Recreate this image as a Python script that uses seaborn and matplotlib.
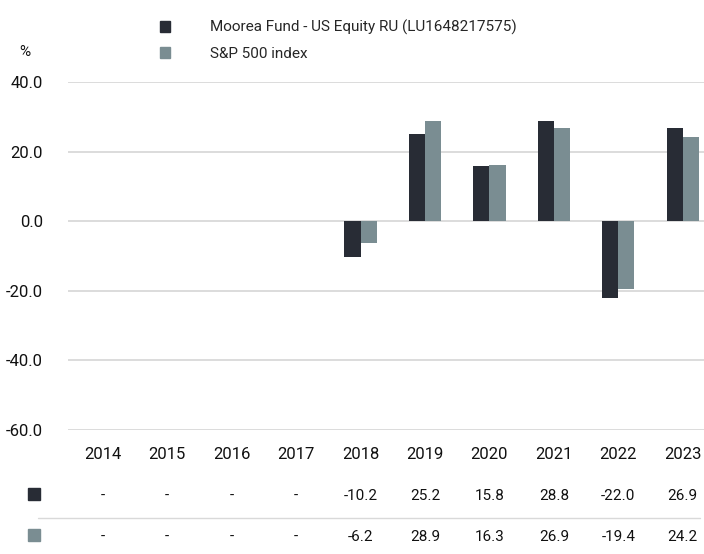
import matplotlib
matplotlib.use('Agg')
import matplotlib.pyplot as plt
import matplotlib.transforms as mtransforms
from matplotlib.patches import Patch
import seaborn as sns
import numpy as np
import pandas as pd

# Datos
years = ['2014', '2015', '2016', '2017', '2018', '2019', '2020', '2021', '2022', '2023']
fund_name = 'Moorea Fund - US Equity RU (LU1648217575)'
index_name = 'S&P 500 index'
fund = [np.nan, np.nan, np.nan, np.nan, -10.2, 25.2, 15.8, 28.8, -22.0, 26.9]
index = [np.nan, np.nan, np.nan, np.nan, -6.2, 28.9, 16.3, 26.9, -19.4, 24.2]
yticks = [40, 20, 0, -20, -40, -60]

dark = '#282c35'
grey = '#7a8d92'

df = pd.DataFrame({
    'year': years * 2,
    'value': fund + index,
    'series': [fund_name] * len(years) + [index_name] * len(years),
})

sns.set_theme(style='white')
plt.rcParams['font.family'] = ['Roboto', 'DejaVu Sans']
plt.rcParams['axes.unicode_minus'] = False

fig = plt.figure(figsize=(7.04, 5.54), dpi=100)
ax = fig.add_axes([0.0966, 0.2238, 0.9034, 0.628])

sns.barplot(data=df, x='year', y='value', hue='series', palette=[dark, grey],
            width=0.5, saturation=1, linewidth=0, ax=ax, legend=False)

ax.set_ylim(-60, 40)
ax.set_xlim(-0.54, 9.33)
ax.set_yticks(yticks)
ax.set_yticklabels([f'{v:.1f}' for v in yticks], fontsize=12, color='#111111')
ax.yaxis.grid(True, color='#d9d9d9', linewidth=1.3)
ax.set_axisbelow(True)
ax.tick_params(axis='y', length=0, pad=18)
ax.tick_params(axis='x', length=0, pad=12, labelsize=12, labelcolor='#111111')
ax.set_xlabel('')
ax.set_ylabel('')
for s in ax.spines.values():
    s.set_visible(False)

fig.text(25 / 704, 1 - 52 / 554, '%', fontsize=11, ha='center', va='center', color='#111111')

# Leyenda
handles = [Patch(color=dark), Patch(color=grey)]
fig.legend(handles, [fund_name, index_name], loc='upper left',
           bbox_to_anchor=(146 / 704, 1 - 6 / 554), frameon=False,
           handlelength=0.7, handleheight=0.7, handletextpad=2.6,
           labelspacing=0.75, fontsize=11)

# Tabla de valores
trans = mtransforms.blended_transform_factory(ax.transData, fig.transFigure)
rows = [(fund, dark, 1 - 496 / 554), (index, grey, 1 - 537 / 554)]
for vals, col, yy in rows:
    fig.patches.append(plt.Rectangle((28 / 704, yy - 4 / 554), 12 / 704, 12 / 554,
                                     transform=fig.transFigure, color=col, figure=fig))
    for i, v in enumerate(vals):
        txt = '-' if np.isnan(v) else f'{v:.1f}'
        ax.text(i, yy, txt, transform=trans, ha='center', va='center',
                fontsize=11, color='#111111')

fig.add_artist(plt.Line2D([38 / 704, 700 / 704], [1 - 518 / 554, 1 - 518 / 554],
                          transform=fig.transFigure, color='#d9d9d9', linewidth=1))

fig.savefig('out.png', dpi=100)
